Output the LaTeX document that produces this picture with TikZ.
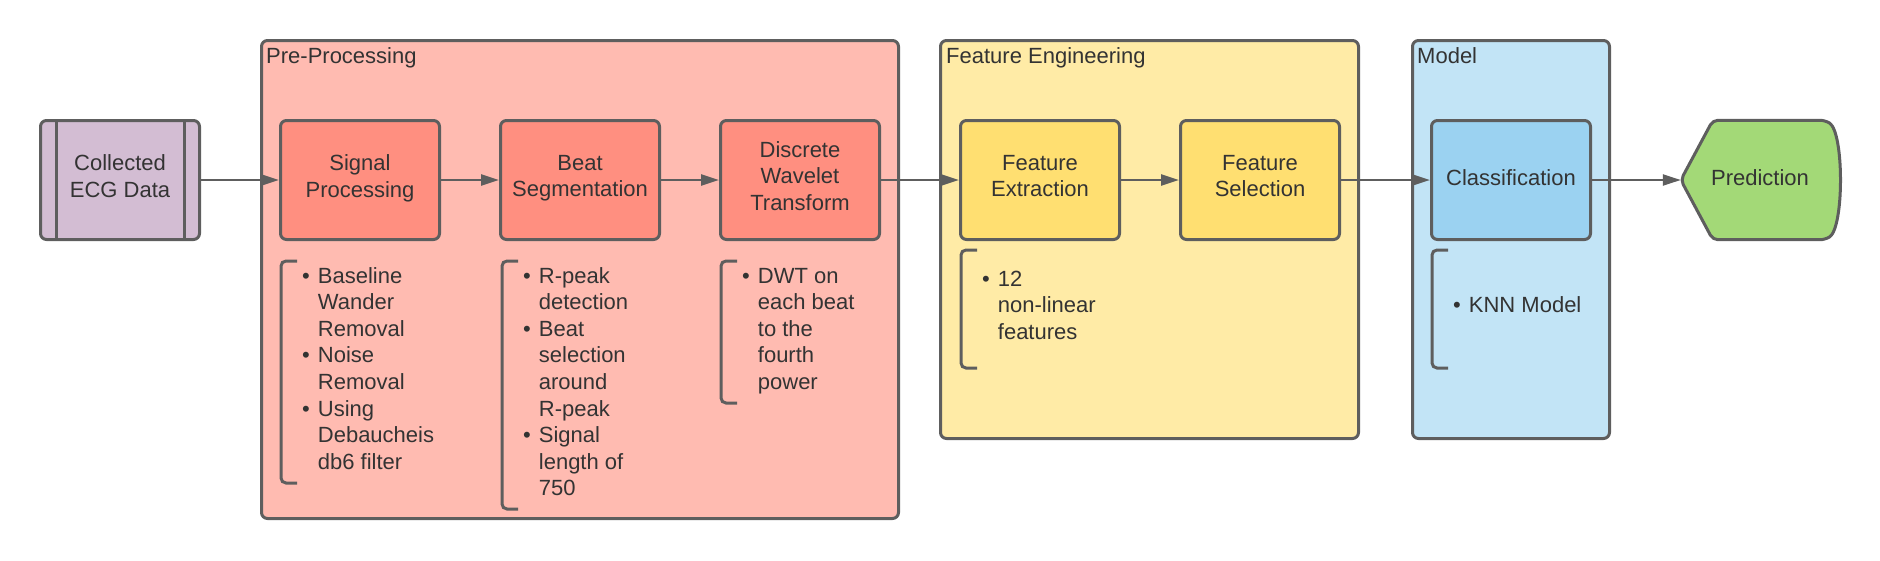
\documentclass[tikz,border=0pt]{standalone}
\usepackage{fontspec}
\setmainfont{Liberation Sans}
\usetikzlibrary{arrows.meta}
\usetikzlibrary{backgrounds}

\definecolor{edge}{HTML}{5E5E5E}
\definecolor{txt}{HTML}{333333}
\definecolor{ecgfill}{HTML}{D3BDD3}
\definecolor{prebg}{HTML}{FFBBB1}
\definecolor{prebox}{HTML}{FF8F80}
\definecolor{febg}{HTML}{FFEBA6}
\definecolor{febox}{HTML}{FFDF71}
\definecolor{mdlbg}{HTML}{C2E4F6}
\definecolor{mdlbox}{HTML}{9BD2F1}
\definecolor{predfill}{HTML}{A3D977}

\newcommand{\bulletlist}[1]{\begin{tabular}[t]{@{}l@{\hspace{8pt}}l@{}}#1\end{tabular}}

\tikzset{
  stagegroup/.style={draw=edge, line width=3pt, rounded corners=6pt, inner sep=0pt},
  stage/.style={draw=edge, line width=3pt, rounded corners=6pt, minimum width=159pt, minimum height=119pt, align=center, inner sep=0pt, execute at begin node=\strut, execute at end node=\strut},
  grouptitle/.style={anchor=base west, inner sep=0pt},
  notes/.style={anchor=base west, inner sep=0pt},
  brk/.style={draw=edge, line width=3pt, rounded corners=5pt},
  flowarrow/.style={draw=edge, line width=2.3pt, -{Triangle[length=18pt, width=11pt]}}
}

\begin{document}
\begin{tikzpicture}[x=1pt, y=-1pt, every node/.style={text=txt, font=\fontsize{22}{26.6}\selectfont}]
\useasboundingbox (0,0) rectangle (1880,560);

\node[stagegroup, fill=prebg, minimum width=637pt, minimum height=478pt] (pre) at (580,279.5) {};
\node[stagegroup, fill=febg, minimum width=418pt, minimum height=398pt] (feng) at (1149.5,239.5) {};
\node[stagegroup, fill=mdlbg, minimum width=197pt, minimum height=398pt] (mdl) at (1511,239.5) {};
\node[grouptitle] at ([shift={(6,24)}]pre.north west) {Pre-Processing};
\node[grouptitle] at ([shift={(7,24)}]feng.north west) {Feature Engineering};
\node[grouptitle] at ([shift={(6,24)}]mdl.north west) {Model};

\node[stage, fill=ecgfill] (ecg) at (120,180) {Collected\\ECG Data};
\draw[draw=edge, line width=3pt] ([xshift=17pt]ecg.north west) -- ([xshift=17pt]ecg.south west);
\draw[draw=edge, line width=3pt] ([xshift=-17pt]ecg.north east) -- ([xshift=-17pt]ecg.south east);
\node[stage, fill=prebox] (sig) at (360,180) {Signal\\Processing};
\node[stage, fill=prebox] (beat) at (580,180) {Beat\\Segmentation};
\node[stage, fill=prebox] (dwt) at (800,180) {Discrete\\Wavelet\\Transform};
\node[stage, fill=febox] (fext) at (1040,180) {Feature\\Extraction};
\node[stage, fill=febox] (fsel) at (1260,180) {Feature\\Selection};
\node[stage, fill=mdlbox] (cls) at (1511,180) {Classification};
\node[minimum width=158pt, minimum height=119pt, inner sep=0pt] (pred) at (1760,180) {\strut Prediction};
\begin{scope}[on background layer]
\draw[draw=edge, fill=predfill, line width=3pt, rounded corners=5pt] (pred.west) -- ([xshift=32pt]pred.north west) -- ([xshift=-14pt]pred.north east) .. controls ([xshift=5pt, yshift=-12pt]pred.north east) and ([xshift=5pt, yshift=12pt]pred.south east) .. ([xshift=-14pt]pred.south east) -- ([xshift=32pt]pred.south west) -- cycle;
\end{scope}

\draw[flowarrow] (ecg) -- (sig);
\draw[flowarrow] (sig) -- (beat);
\draw[flowarrow] (beat) -- (dwt);
\draw[flowarrow] (dwt) -- (fext);
\draw[flowarrow] (fext) -- (fsel);
\draw[flowarrow] (fsel) -- (cls);
\draw[flowarrow] (cls) -- (pred);

\foreach \x/\t/\b in {281/261/483, 502/261/509, 721/261/403, 961/250/368, 1432/250/368}
  \draw[brk] (\x+16,\t) -- (\x,\t) -- (\x,\b) -- (\x+16,\b);

\node[notes] (sigl) at (302,283) {\bulletlist{\textbullet & Baseline\\ & Wander\\ & Removal\\ \textbullet & Noise\\ & Removal\\ \textbullet & Using\\ & Debaucheis\\ & db6 filter}};
\node[notes] (beatl) at (523,283) {\bulletlist{\textbullet & R-peak\\ & detection\\ \textbullet & Beat\\ & selection\\ & around\\ & R-peak\\ \textbullet & Signal\\ & length of\\ & 750}};
\node[notes] (dwtl) at (742,283) {\bulletlist{\textbullet & DWT on\\ & each beat\\ & to the\\ & fourth\\ & power}};
\node[notes] (fextl) at (982,286) {\bulletlist{\textbullet & 12\\ & non-linear\\ & features}};
\node[notes] (clsl) at (1453,312) {\bulletlist{\textbullet & KNN Model}};
\end{tikzpicture}
\end{document}
